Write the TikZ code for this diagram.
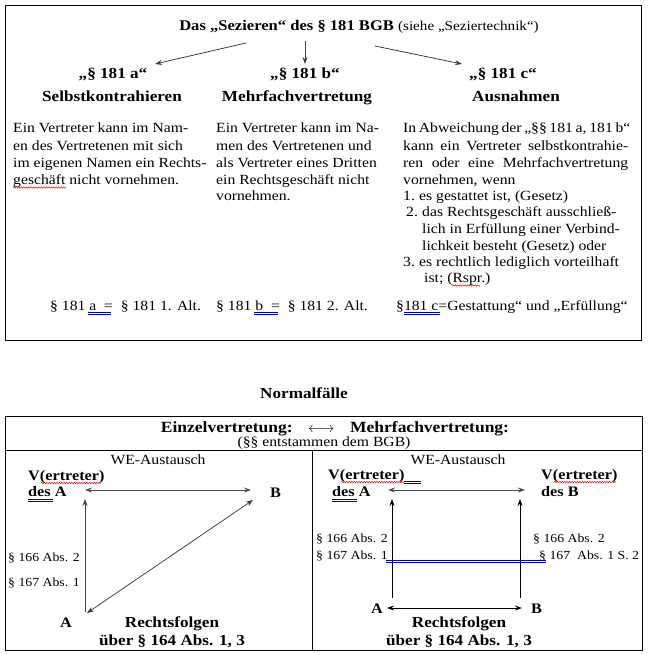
\documentclass[tikz,border=0pt]{standalone}
\usepackage{fontspec}
\setmainfont{Liberation Serif}[FakeStretch=1.12]
\usetikzlibrary{arrows.meta,decorations.pathmorphing}
\tikzset{
  t/.style={inner sep=0pt, anchor=base west, font=\fontsize{14}{16}\selectfont},
  tc/.style={inner sep=0pt, anchor=base, font=\fontsize{14}{16}\selectfont},
  hb/.style={inner sep=0pt, anchor=base, font=\fontsize{15.3}{17}\selectfont\bfseries},
  hbl/.style={inner sep=0pt, anchor=base, font=\fontsize{15.3}{17}\selectfont\bfseries},
  sm/.style={inner sep=0pt, anchor=base west, font=\fontsize{12.3}{14}\selectfont},
  vb/.style={inner sep=0pt, anchor=base west, font=\fontsize{14.5}{16}\selectfont\bfseries},
  frame/.style={draw=black, line width=0.9pt},
  arr/.style={draw=black!75, line width=0.8pt, -{Stealth[length=7pt,width=5pt]}},
  darr/.style={draw=black!70, line width=1pt, {Stealth[length=7pt,width=5pt]}-{Stealth[length=7pt,width=5pt]}},
  squig/.style={draw=red, line width=0.5pt, decorate, decoration={snake, amplitude=0.7pt, segment length=2.5pt}},
  blueu/.style={draw=blue!75!black, line width=0.6pt},
}
\newcommand{\dblu}[3]{\draw[blueu] (#1,#3) -- (#2,#3); \draw[blueu] (#1,#3+2) -- (#2,#3+2);}
\begin{document}
\begin{tikzpicture}[x=1pt,y=-1pt]
\useasboundingbox (0,0) rectangle (649,654);
% ---------- top box ----------
\draw[frame] (5,5) rectangle (641,340);
\node[inner sep=0pt, anchor=base, font=\fontsize{14.8}{16}\selectfont] (title) at (359,30)
  {\bfseries Das „Sezieren“ des § 181 BGB\mdseries\ {\fontsize{13.5}{15}\selectfont(siehe „Seziertechnik“)}};
\coordinate (s1) at (246,43); \coordinate (e1) at (155,64);
\coordinate (s2) at (305,41); \coordinate (e2) at (305,64);
\coordinate (s3) at (375,46); \coordinate (e3) at (462,64);
\draw[arr] (s1) -- (e1);
\draw[arr] (s2) -- (e2);
\draw[arr] (s3) -- (e3);
\node[hb] (pa) at (113,78) {„§ 181 a“};
\node[hb] (ha) at (112,101) {Selbstkontrahieren};
\node[hb] (pb) at (305,78) {„§ 181 b“};
\node[hb] (hb2) at (297,101) {Mehrfachvertretung};
\node[hb] (pc) at (503,78) {„§ 181 c“};
\node[hb] (hc) at (516,101) {Ausnahmen};
% paragraph 1
\node[t] (a1) at (13,132) {Ein Vertreter kann im Nam-};
\node[t] (a2) at (13,150) {en des Vertretenen mit sich};
\node[t] (a3) at (13,167) {im eigenen Namen ein Rechts-};
\node[t] (a4) at (13,184) {geschäft nicht vornehmen.};
\draw[squig] (13,187.5) -- (66,187.5);
% paragraph 2
\node[t] (b1) at (216,132) {Ein Vertreter kann im Na-};
\node[t] (b2) at (216,150) {men des Vertretenen und};
\node[t] (b3) at (216,167) {als Vertreter eines Dritten};
\node[t] (b4) at (216,184) {ein Rechtsgeschäft nicht};
\node[t] (b5) at (216,200) {vornehmen.};
% paragraph 3
\node[t] (c1) at (403,132) {\makebox[225pt][s]{In Abweichung der „§§ 181 a, 181 b“}};
\node[t] (c2) at (403,150) {\makebox[225pt][s]{kann ein Vertreter selbstkontrahie-}};
\node[t] (c3) at (403,167) {\makebox[225pt][s]{ren oder eine Mehrfachvertretung}};
\node[t] (c4) at (403,184) {vornehmen, wenn};
\node[t] (c5) at (403,200) {1.};
\node[t] (c5b) at (419,200) {es gestattet ist, (Gesetz)};
\node[t] (c6) at (406,216) {2.};
\node[t] (c6b) at (422,216) {das Rechtsgeschäft ausschließ-};
\node[t] (c7) at (422,233) {lich in Erfüllung einer Verbind-};
\node[t] (c8) at (422,250) {lichkeit besteht (Gesetz) oder};
\node[t] (c9) at (403,266) {3.};
\node[t] (c9b) at (419,266) {es rechtlich lediglich vorteilhaft};
\node[t] (c10) at (424,282) {ist; (Rspr.)};
\draw[squig] (452,285.5) -- (480,285.5);
% bottom line
\node[t] (d1) at (50,310) {§ 181 a\ \ =\ \ § 181 1. Alt.};
\node[t] (d2) at (216,310) {§ 181 b\ \ =\ \ § 181 2. Alt.};
\node[t] (d3) at (396,310) {§181 c=Gestattung“ und „Erfüllung“};
\dblu{88}{111}{312.5}
\dblu{254}{278}{312.5}
\dblu{404}{440}{312.5}
% ---------- Normalfälle ----------
\node[hb] (nf) at (304,398) {Normalfälle};
% ---------- table ----------
\draw[frame] (5,416) rectangle (642,650);
\draw[frame] (5,450) -- (642,450);
\draw[frame] (312,450) -- (312,650);
\node[inner sep=0pt, anchor=base, font=\fontsize{15.6}{17}\selectfont\bfseries] (eh) at (335,432)
  {Einzelvertretung:\quad$\longleftrightarrow$\quad Mehrfachvertretung:};
\node[tc] (eh2) at (324,446.5) {(§§ entstammen dem BGB)};
\node[tc] (we1) at (158,464) {WE-Austausch};
\node[tc] (we2) at (458,464) {WE-Austausch};
% left cell
\node[vb] (lv) at (28,480) {V(ertreter)};
\node[vb] (ld) at (28,496) {des A};
\draw[squig] (41,483) -- (101,483);
\dblu{28}{53}{499.5}
\node[vb] (lB) at (270,497) {B};
\coordinate (lVa) at (85,490); \coordinate (lBa) at (251,490);
\draw[darr] (lVa) -- (lBa);
\coordinate (lAt) at (85,612); \coordinate (lVb) at (85,499);
\draw[arr] (lAt) -- (lVb);
\coordinate (lAd) at (87,613); \coordinate (lBd) at (253,500);
\draw[darr, draw=black!80, line width=0.7pt] (lAd) -- (lBd);
\node[sm] (l1) at (8,561) {§ 166 Abs. 2};
\node[sm] (l2) at (8,586) {§ 167 Abs. 1};
\node[vb] (lA) at (60,627) {A};
\node[hbl] (lr1) at (172,627) {Rechtsfolgen};
\node[hbl] (lr2) at (172,645) {über § 164 Abs. 1, 3};
% right cell
\node[vb] (rv1) at (328,479) {V(ertreter)};
\node[vb] (rd1) at (332,496) {des A};
\draw[squig] (341,482) -- (404,482);
\dblu{404}{421}{481.5}
\dblu{332}{357}{499.5}
\node[vb] (rv2) at (541,479) {V(ertreter)};
\node[vb] (rd2) at (541,496) {des B};
\draw[squig] (554,482) -- (616,482);
\coordinate (rVa) at (388,490); \coordinate (rVb) at (525,490);
\draw[darr] (rVa) -- (rVb);
\coordinate (rAt) at (392,598); \coordinate (rVat) at (392,499);
\coordinate (rBt) at (520,598); \coordinate (rVbt) at (520,499);
\draw[arr, draw=black] (rAt) -- (rVat);
\draw[arr, draw=black] (rBt) -- (rVbt);
\node[sm] (r1) at (316,542) {§ 166 Abs. 2};
\node[sm] (r2) at (316,559) {§ 167 Abs. 1};
\node[sm] (r3) at (533,542) {§ 166 Abs. 2};
\node[sm] (r4) at (539,559) {§ 167\ \ Abs. 1 S. 2};
\dblu{386}{546}{560}
\node[vb] (rA) at (371,613) {A};
\node[vb] (rB) at (531,613) {B};
\coordinate (rAa) at (387,608); \coordinate (rBa) at (522,608);
\draw[darr, draw=black] (rAa) -- (rBa);
\node[hbl] (rr1) at (459,627) {Rechtsfolgen};
\node[hbl] (rr2) at (459,645) {über § 164 Abs. 1, 3};
\end{tikzpicture}
\end{document}
